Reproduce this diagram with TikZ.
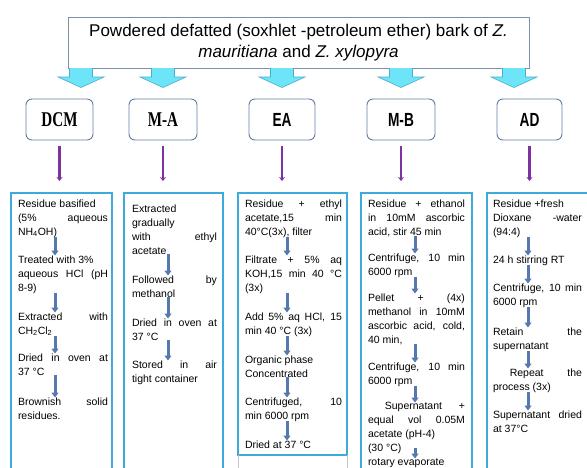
\documentclass[tikz,border=0pt]{standalone}
\usepackage{fontspec}
\setmainfont{Liberation Sans}
\newfontfamily\hdserif[FakeStretch=0.72]{Liberation Serif}
\newfontfamily\hdsans[FakeStretch=0.72]{Liberation Sans}
\usetikzlibrary{arrows,arrows.meta,positioning}
\setlength{\parindent}{0pt}

\definecolor{topline}{RGB}{125,145,170}
\definecolor{cyanfill}{RGB}{110,228,248}
\definecolor{cyanline}{RGB}{70,175,205}
\definecolor{headline}{RGB}{95,125,165}
\definecolor{colline}{RGB}{60,170,220}
\definecolor{linkpurple}{RGB}{125,50,160}
\definecolor{stepblue}{RGB}{85,120,175}

\begin{document}
\begin{tikzpicture}[x=1pt,y=-1pt,>=stealth',semithick]
\tikzstyle{every node}=[inner sep=0pt,outer sep=0pt]
\tikzstyle{topbox}=[draw=topline,line width=1pt,fill=white,minimum width=461pt,minimum height=51pt]
\tikzstyle{headbox}=[draw=headline,line width=0.9pt,rounded corners=6pt,minimum height=41pt]
\tikzstyle{colbox}=[draw=colline,line width=1.4pt,anchor=north west]
\tikzstyle{stepbox}=[anchor=north west,align=justify,font=\fontsize{10.5}{14}\selectfont]
\tikzstyle{link}=[draw=linkpurple,line width=2.3pt,-{Stealth[length=4pt,width=6pt]},shorten <=6pt,shorten >=12pt]
\tikzstyle{steparrow}=[draw=stepblue,line width=3pt,-{Triangle[width=7pt,length=5pt]}]
\tikzstyle{blockarrow}=[fill=cyanfill,draw=cyanline,line width=0.6pt]

\useasboundingbox (0,0) rectangle (587,467);

% source
\node[topbox,align=center,font=\fontsize{17}{21}\selectfont] (src) at (298.5,42.5)
  {Powdered defatted (soxhlet -petroleum ether) bark of \textit{Z.}\\ \textit{mauritiana} and \textit{Z. xylopyra}};
\foreach \x in {81,163,282,401,514}
  \filldraw[blockarrow] (\x-11.5,68) -- (\x-11.5,77) -- (\x-23,77) -- (\x,87.5) -- (\x+23,77) -- (\x+11.5,77) -- (\x+11.5,68);

% solvents
\node[headbox,minimum width=67pt] (dcm) at (59.5,119.5) {\hdserif\bfseries\fontsize{21}{21}\selectfont DCM};
\node[headbox,minimum width=68pt] (ma) at (163,119.5) {\hdserif\bfseries\fontsize{21}{21}\selectfont M-A};
\node[headbox,minimum width=66pt] (ea) at (282,119.5) {\hdsans\bfseries\fontsize{19}{19}\selectfont EA};
\node[headbox,minimum width=68pt] (mb) at (401,119.5) {\hdsans\bfseries\fontsize{19}{19}\selectfont M-B};
\node[headbox,minimum width=65pt] (ad) at (529.5,119.5) {\hdsans\bfseries\fontsize{19}{19}\selectfont AD};

% columns
\node[colbox,minimum width=101pt,minimum height=290pt] (dcmcol) at (11,193) {};
\node[colbox,minimum width=99pt,minimum height=290pt] (macol) at (124,193) {};
\node[colbox,minimum width=109pt,minimum height=262pt] (eacol) at (238,193) {};
\node[colbox,minimum width=111pt,minimum height=290pt] (mbcol) at (361,193) {};
\node[colbox,minimum width=113pt,minimum height=290pt] (adcol) at (487,193) {};
\draw[gray!45,line width=1pt] (eacol.south west) -- ++(0,15) (eacol.south east) -- ++(0,15);

\draw[link] (dcm.south) -- (dcm.south |- dcmcol.north);
\draw[link] (ma.south) -- (ma.south |- macol.north);
\draw[link] (ea.south) -- (ea.south |- eacol.north);
\draw[link] (mb.south) -- (mb.south |- mbcol.north);
\draw[link] (ad.south) -- (ad.south |- adcol.north);

% DCM
\node[stepbox,text width=90pt] (d1) at (18,199.5) {Residue basified\newline (5\% aqueous\linebreak NH\textsubscript{4}OH)};
\node[stepbox,text width=90pt] (d2) at (18,255.5) {Treated with 3\%\newline aqueous HCl (pH\linebreak 8-9)};
\node[stepbox,text width=90pt] (d3) at (18,312.5) {Extracted with\linebreak CH\textsubscript{2}Cl\textsubscript{2}};
\node[stepbox,text width=90pt] (d4) at (18,353.5) {Dried in oven at\linebreak 37 °C};
\node[stepbox,text width=90pt] (d5) at (18,397.5) {Brownish solid\linebreak residues.};
\foreach \a/\b in {d1/d2,d2/d3,d3/d4,d4/d5}
  \draw[steparrow] ([xshift=37pt]\a.south west) -- ([xshift=37pt]\b.north west);

% M-A
\node[stepbox,text width=85pt] (a1) at (132,204.5) {Extracted\newline gradually\newline \ with ethyl\linebreak acetate};
\node[stepbox,text width=85pt] (a2) at (132,275.5) {Followed by\linebreak methanol};
\node[stepbox,text width=85pt] (a3) at (132,318.5) {Dried in oven at\linebreak 37 °C};
\node[stepbox,text width=85pt] (a4) at (132,360.5) {Stored in air\linebreak tight container};
\foreach \a/\b in {a1/a2,a2/a3,a3/a4}
  \draw[steparrow] ([xshift=36pt]\a.south west) -- ([xshift=36pt]\b.north west);

% EA
\node[stepbox,text width=97pt] (e1) at (245,199.5) {Residue + ethyl\linebreak acetate,15 min\linebreak 40°C(3x), filter};
\node[stepbox,text width=97pt] (e2) at (245,255.5) {Filtrate + 5\% aq\linebreak KOH,15 min 40 °C\linebreak (3x)};
\node[stepbox,text width=97pt] (e3) at (245,312.5) {Add 5\% aq HCl, 15\linebreak min 40 °C (3x)};
\node[stepbox,text width=97pt] (e4) at (245,355.5) {Organic phase\newline Concentrated};
\node[stepbox,text width=97pt] (e5) at (245,397.5) {Centrifuged, 10\linebreak min 6000 rpm};
\node[stepbox,text width=97pt] (e6) at (245,440.5) {Dried at 37 °C};
\foreach \a/\b in {e1/e2,e2/e3,e3/e4,e4/e5,e5/e6}
  \draw[steparrow] ([xshift=42pt]\a.south west) -- ([xshift=42pt]\b.north west);

% M-B
\node[stepbox,text width=97pt] (b1) at (368,199.5) {Residue + ethanol\linebreak in 10mM ascorbic\linebreak acid, stir 45 min};
\node[stepbox,text width=97pt] (b2) at (368,253.5) {Centrifuge, 10 min\linebreak 6000 rpm};
\node[stepbox,text width=97pt] (b3) at (368,293.5) {Pellet + (4x)\linebreak methanol in 10mM\linebreak ascorbic acid, cold,\linebreak 40 min,};
\node[stepbox,text width=97pt] (b4) at (368,362.5) {Centrifuge, 10 min\linebreak 6000 rpm};
\node[stepbox,text width=97pt] (b5) at (368,402.5) {\ Supernatant +\linebreak equal vol 0.05M\linebreak acetate (pH-4)\newline (30 °C)};
\node[stepbox,text width=97pt] (b6) at (368,458.5) {rotary evaporate};
\foreach \a/\b in {b1/b2,b2/b3,b3/b4,b4/b5}
  \draw[steparrow] ([xshift=47pt]\a.south west) -- ([xshift=47pt]\b.north west);
\draw[steparrow] ([xshift=47pt,yshift=6pt]b5.south west) -- ([xshift=47pt]b6.north west);

% AD
\node[stepbox,text width=89pt] (c1) at (493,199.5) {Residue +fresh\newline Dioxane -water\linebreak (94:4)};
\node[stepbox,text width=89pt] (c2) at (493,255.5) {24 h stirring RT};
\node[stepbox,text width=89pt] (c3) at (493,283.5) {Centrifuge, 10 min\linebreak 6000 rpm};
\node[stepbox,text width=89pt] (c4) at (493,327.5) {Retain the\linebreak supernatant};
\node[stepbox,text width=89pt] (c5) at (493,368.5) {\hspace*{1.6em}Repeat the\linebreak process (3x)};
\node[stepbox,text width=89pt] (c6) at (493,410.5) {Supernatant dried\linebreak at 37°C};
\foreach \a/\b in {c1/c2,c2/c3,c3/c4,c4/c5,c5/c6}
  \draw[steparrow] ([xshift=35pt]\a.south west) -- ([xshift=35pt]\b.north west);
\end{tikzpicture}
\end{document}
